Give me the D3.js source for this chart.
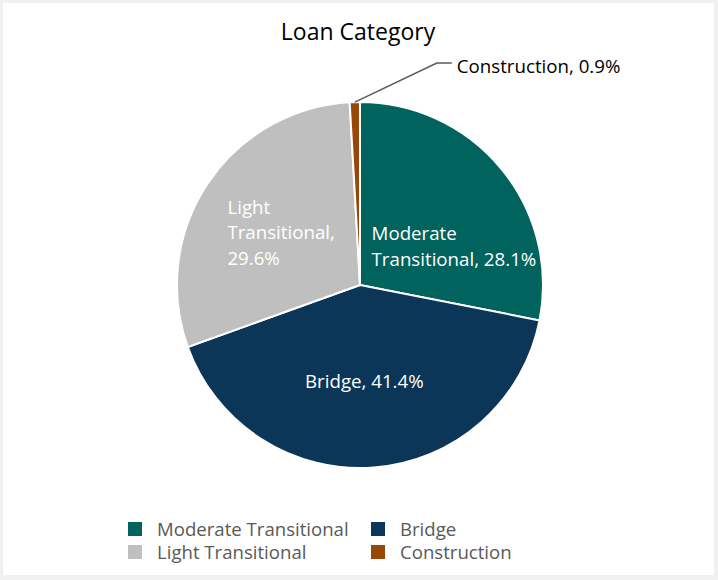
<!DOCTYPE html>
<html>
<head>
<meta charset="utf-8">
<script src="https://cdn.jsdelivr.net/npm/d3@7"></script>
<style>
  body { margin: 0; background: #f0f0f0; }
  svg { display: block; }
  text { font-family: "Open Sans", Lato, sans-serif; }
</style>
</head>
<body>
<svg id="chart"></svg>
<script>
// data
var categories = ["Moderate Transitional", "Bridge", "Light Transitional", "Construction"];
var values = [28.1, 41.4, 29.6, 0.9];
var colors = ["#00635e", "#0b3658", "#bfbfbf", "#974706"];
// how the in-slice labels wrap
var labelLines = [["Moderate", "Transitional, 28.1%"], ["Bridge, 41.4%"], ["Light", "Transitional,", "29.6%"], null];

var width = 718, height = 580;
var cx = 360, cy = 285, radius = 183;

var svg = d3.select("#chart")
    .attr("width", width)
    .attr("height", height);

svg.append("rect")
    .attr("x", 3).attr("y", 3)
    .attr("width", 711).attr("height", 572)
    .attr("fill", "#fff");

svg.append("text")
    .attr("x", 358)
    .attr("y", 40)
    .attr("text-anchor", "middle")
    .attr("font-size", 23)
    .attr("fill", "#000")
    .text("Loan Category");

var pieData = d3.pie().sort(null).value(d => d)(values);

var arc = d3.arc().innerRadius(0).outerRadius(radius);
var labelArc = d3.arc().innerRadius(radius * 0.53).outerRadius(radius * 0.53);

var g = svg.append("g")
    .attr("transform", "translate(" + cx + "," + cy + ")");

g.selectAll(".slice")
    .data(pieData)
    .enter().append("path")
    .attr("class", "slice")
    .attr("d", arc)
    .attr("fill", (d, i) => colors[i])
    .attr("stroke", "#fff")
    .attr("stroke-width", 2);

// nudges Excel applied to fit the labels inside the slices
var nudge = [[19, 23], [-3, 0], [2, 1]];
var lineH = 25.5;

pieData.forEach(function(d, i) {
    var lines = labelLines[i];
    if (!lines) return;
    var c = labelArc.centroid(d);
    var x = c[0] + nudge[i][0], y = c[1] + nudge[i][1];
    var t = g.append("text")
        .attr("fill", "#fff")
        .attr("font-size", 18.7)
        .attr("text-anchor", lines.length > 1 ? "start" : "middle");
    lines.forEach(function(s, k) {
        t.append("tspan")
            .attr("x", 0)
            .attr("y", y + (k - (lines.length - 1) / 2) * lineH)
            .attr("dy", "0.35em")
            .text(s);
    });
    if (lines.length > 1) {
        var w = t.node().getBBox().width;
        t.selectAll("tspan").attr("x", x - w / 2);
    } else {
        t.selectAll("tspan").attr("x", x);
    }
});

// outside label for the small slice, with a leader line
var small = pieData[3];
var mid = (small.startAngle + small.endAngle) / 2;
var p0 = [Math.sin(mid) * radius, -Math.cos(mid) * radius];
var elbow = [p0[0] + 82, p0[1] - 39];
var p2 = [elbow[0] + 15, elbow[1]];
g.append("polyline")
    .attr("points", [p0, elbow, p2].map(p => p.join(",")).join(" "))
    .attr("fill", "none")
    .attr("stroke", "#595959")
    .attr("stroke-width", 1.5);
g.append("text")
    .attr("x", p2[0] + 5)
    .attr("y", p2[1] + 3)
    .attr("dy", "0.35em")
    .attr("font-size", 18.7)
    .attr("fill", "#000")
    .text(categories[3] + ", " + values[3].toFixed(1) + "%");

// legend, two columns
var legendCols = [128, 371], legendRows = [529, 552];
var legend = svg.selectAll(".legend")
    .data(categories)
    .enter().append("g")
    .attr("class", "legend")
    .attr("transform", (d, i) => "translate(" + legendCols[i % 2] + "," + legendRows[Math.floor(i / 2)] + ")");

legend.append("rect")
    .attr("x", 0).attr("y", -7)
    .attr("width", 14).attr("height", 14)
    .attr("fill", (d, i) => colors[i]);

legend.append("text")
    .attr("x", 29)
    .attr("dy", "0.35em")
    .attr("font-size", 18.6)
    .attr("fill", "#595959")
    .text(d => d);
</script>
</body>
</html>
